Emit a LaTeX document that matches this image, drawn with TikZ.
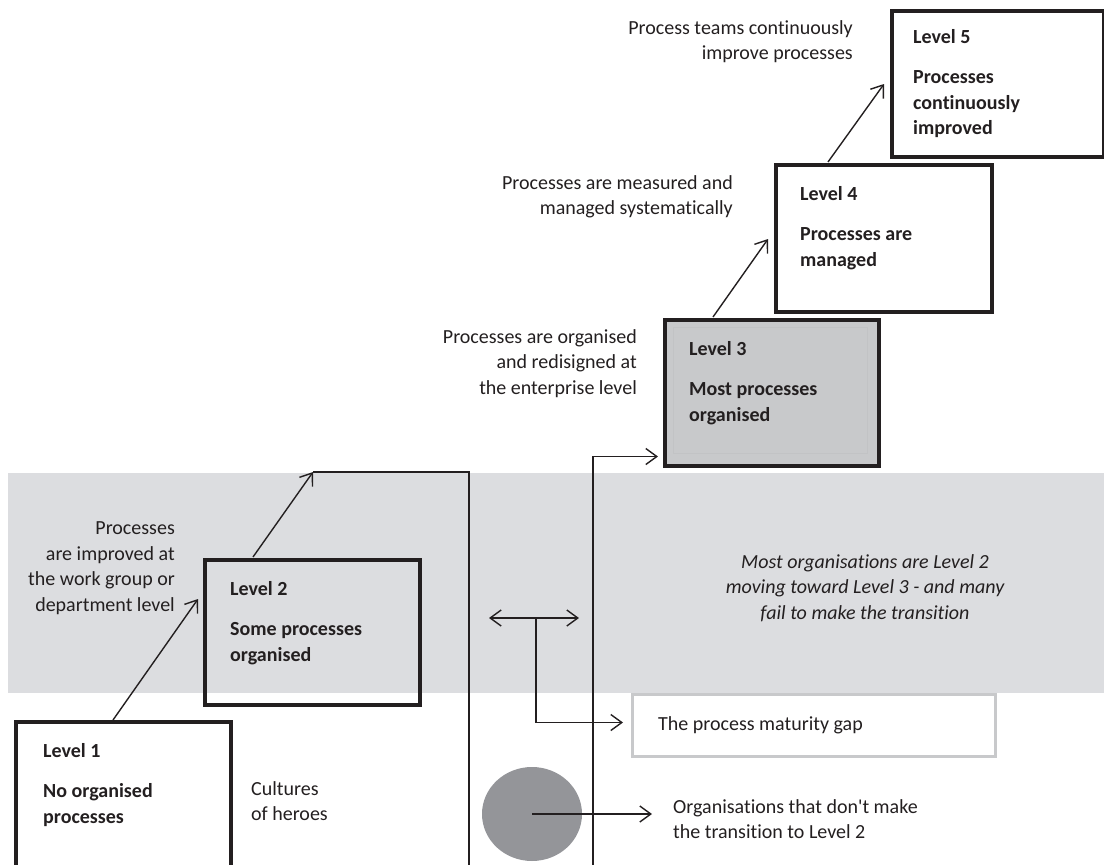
\documentclass[tikz,border=0pt]{standalone}
\usepackage{fontspec}
\setmainfont{Carlito}[Ligatures={NoCommon}]
\usetikzlibrary{arrows.meta,calc,shapes.geometric}
\definecolor{band}{RGB}{220,221,224}
\definecolor{lvlthree}{RGB}{200,201,203}
\definecolor{lvlthreein}{RGB}{194,195,197}
\definecolor{circgrey}{RGB}{148,149,153}
\definecolor{gapgrey}{RGB}{200,201,203}
\definecolor{ink}{RGB}{35,31,32}
\begin{document}
\begin{tikzpicture}[x=1pt,y=-1pt,
  every node/.style={font=\fontsize{20}{25.5}\selectfont, text=ink, inner sep=0pt},
  lvlbox/.style={draw=ink, line width=3.5pt, anchor=north west},
  boxtext/.style={align=left, anchor=west, font=\fontsize{20}{25.5}\selectfont\bfseries},
  rlabel/.style={align=right, anchor=east},
  llabel/.style={align=left, anchor=west},
  conn/.style={draw=ink, line width=1.4pt},
  arr/.style={conn, -{Straight Barb[length=11pt,width=16pt,line width=1.4pt]}},
  darr/.style={conn, {Straight Barb[length=11pt,width=16pt,line width=1.4pt]}-{Straight Barb[length=11pt,width=16pt,line width=1.4pt]}}]
\useasboundingbox (0,0) rectangle (1104,865);
% grey band
\fill[band] (8,473) rectangle (1104,693);
% level boxes
\node[lvlbox, minimum width=215pt, minimum height=152pt] (L1) at (14,720) {};
\node[lvlbox, minimum width=215pt, minimum height=145pt] (L2) at (203,558) {};
\node[lvlbox, fill=lvlthree, minimum width=214pt, minimum height=146pt] (L3) at (663,318) {};
\draw[lvlthreein, line width=0.8pt] (673,327) rectangle (867,453);
\node[lvlbox, minimum width=216pt, minimum height=147pt] (L4) at (774,163) {};
\node[lvlbox, minimum width=212pt, minimum height=146pt] (L5) at (890,9) {};
% box texts
\node[boxtext] (L1t) at ($(L1.north west)+(29,65)$) {Level 1\\[14.5pt]No organised\\processes};
\node[boxtext] (L2t) at ($(L2.north west)+(27,65)$) {Level 2\\[14.5pt]Some processes\\organised};
\node[boxtext] (L3t) at ($(L3.north west)+(26,65)$) {Level 3\\[14.5pt]Most processes\\organised};
\node[boxtext] (L4t) at ($(L4.north west)+(26,65)$) {Level 4\\[14.5pt]Processes are\\managed};
\node[boxtext] (L5t) at ($(L5.north west)+(23,75)$) {Level 5\\[14.5pt]Processes\\continuously\\improved};
% side labels
\node[rlabel] (T5) at (853,41.5) {Process teams continuously\\improve processes};
\node[rlabel] (T4) at (733,197) {Processes are measured and\\managed systematically};
\node[rlabel] (T3) at (637,363.5) {Processes are organised\\and redisigned at\\the enterprise level};
\node[rlabel] (T2) at (175,568) {Processes\\are improved at\\the work group or\\department level};
\node[llabel] (T1) at (251,801) {Cultures\\of heroes};
\node[align=center, font=\fontsize{20}{25.5}\selectfont\itshape] (most) at (865,588) {Most organisations are Level 2\\moving toward Level 3 - and many\\fail to make the transition};
% gap box
\node[draw=gapgrey, line width=3pt, anchor=north west, minimum width=363pt, minimum height=62pt] (gap) at (631,693) {};
\node[llabel] (gapt) at (658,725) {The process maturity gap};
% circle
\node[ellipse, fill=circgrey, minimum width=100pt, minimum height=94pt] (circ) at (532,814) {};
\node[llabel] (org) at (673,819) {Organisations that don\textquotesingle t make\\the transition to Level 2};
% coordinates
\coordinate (gapL) at (313,472);
\coordinate (botL) at (469,868);
\coordinate (botR) at (593,868);
\coordinate (dl) at (489,618);
\coordinate (dr) at (579,618);
\coordinate (dm) at (536,618);
% connectors
\draw[arr] ($(L1.north west)+(99,0)$) -- ($(L2.north west)+(-5,41)$);
\draw[arr] ($(L2.north west)+(50,-1)$) -- (gapL);
\draw[conn] (gapL) -| (botL);
\draw[arr] (botR) |- ($(L3.south west)+(-5,-11)$);
\draw[darr] (dl) -- (dr);
\draw[arr] (dm) |- ($(gap.west)+(-8,-3)$);
\draw[arr] (circ.center) -- ($(org.west)+(-21,-5)$);
\draw[arr] ($(L3.north west)+(50,-1)$) -- ($(L4.north west)+(-6,76)$);
\draw[arr] ($(L4.north west)+(54,-1)$) -- ($(L5.north west)+(-6,75)$);
\end{tikzpicture}
\end{document}
